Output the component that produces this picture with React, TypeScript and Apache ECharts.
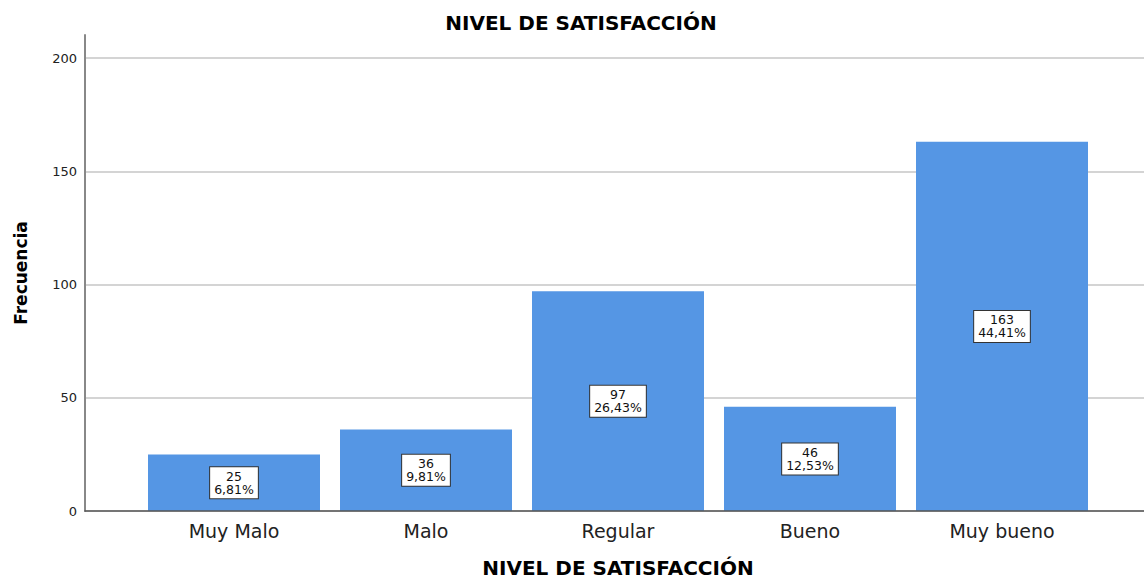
import React, { useEffect, useRef } from "react";
import * as echarts from "echarts";

const categories = ["Muy Malo", "Malo", "Regular", "Bueno", "Muy bueno"];
const frequencies = [25, 36, 97, 46, 163];
const percentages = [6.81, 9.81, 26.43, 12.53, 44.41];
const yTicks = [0, 50, 100, 150, 200];

const FONT = "'DejaVu Sans', Arial, sans-serif";

export default function App() {
  const ref = useRef<HTMLDivElement>(null);
  useEffect(() => {
    if (!ref.current) return;
    const chart = echarts.init(ref.current, undefined, { renderer: "svg" });
    const pctText = percentages.map((p) => p.toFixed(2).replace(".", ",") + "%");
    chart.setOption({
      animation: false,
      backgroundColor: "#ffffff",
      textStyle: { fontFamily: FONT },
      title: {
        text: "NIVEL DE SATISFACCIÓN",
        left: 576,
        textAlign: "center",
        top: 8,
        textStyle: { fontFamily: FONT, fontSize: 20, fontWeight: "bold", color: "#000" },
      },
      grid: [
        { left: 85, right: 0, top: 35, bottom: 68, outerBoundsMode: "none", containLabel: false },
        { left: 85, right: 0, top: 58, bottom: 68, outerBoundsMode: "none", containLabel: false },
        { left: 138, right: 46, top: 58, bottom: 68, outerBoundsMode: "none", containLabel: false },
      ],
      xAxis: [
        {
          gridIndex: 0, type: "value", min: 0, max: 1,
          axisLine: { show: true, lineStyle: { color: "#555", width: 1.5 } },
          axisTick: { show: false }, axisLabel: { show: false }, splitLine: { show: false },
          z: 5,
        },
        {
          gridIndex: 1, type: "value", min: 0, max: 1, show: false,
        },
        {
          gridIndex: 2, type: "category", data: categories,
          axisLine: { show: false }, axisTick: { show: false },
          axisLabel: { fontFamily: FONT, fontSize: 19, color: "#222", margin: 10 },
          name: "NIVEL DE SATISFACCIÓN", nameLocation: "middle", nameGap: 47,
          nameTextStyle: { fontFamily: FONT, fontSize: 20, fontWeight: "bold", color: "#000" },
        },
      ],
      yAxis: [
        {
          gridIndex: 0, type: "value", min: 0, max: 210,
          axisLine: { show: true, lineStyle: { color: "#888", width: 2 } },
          axisTick: { show: false }, axisLabel: { show: false }, splitLine: { show: false },
          name: "Frecuencia", nameLocation: "middle", nameGap: 56, nameRotate: 90,
          nameTextStyle: { fontFamily: FONT, fontSize: 17, fontWeight: "bold", color: "#000" },
        },
        {
          gridIndex: 1, type: "value", min: 0, max: yTicks[yTicks.length - 1], interval: 50,
          axisLine: { show: false }, axisTick: { show: false },
          axisLabel: { fontFamily: FONT, fontSize: 13, color: "#222", margin: 8 },
          splitLine: { show: true, lineStyle: { color: "#d4d4d4", width: 2 } },
        },
        {
          gridIndex: 2, type: "value", min: 0, max: yTicks[yTicks.length - 1], show: false,
        },
      ],
      series: [
        {
          type: "bar",
          xAxisIndex: 2,
          yAxisIndex: 2,
          data: frequencies,
          barWidth: 172,
          itemStyle: { color: "#5596e4" },
          label: {
            show: true,
            position: "inside",
            formatter: (p: any) => `${p.value}\n${pctText[p.dataIndex]}`,
            fontFamily: FONT,
            fontSize: 12.5,
            lineHeight: 13,
            color: "#111",
            backgroundColor: "#ffffff",
            borderColor: "#333",
            borderWidth: 1,
            padding: [3, 4, 2, 4],
            align: "center",
          },
        },
      ],
    });
    return () => chart.dispose();
  }, []);
  return <div ref={ref} style={{ width: 1144, height: 579, position: "absolute", left: 0, top: 0 }} />;
}
